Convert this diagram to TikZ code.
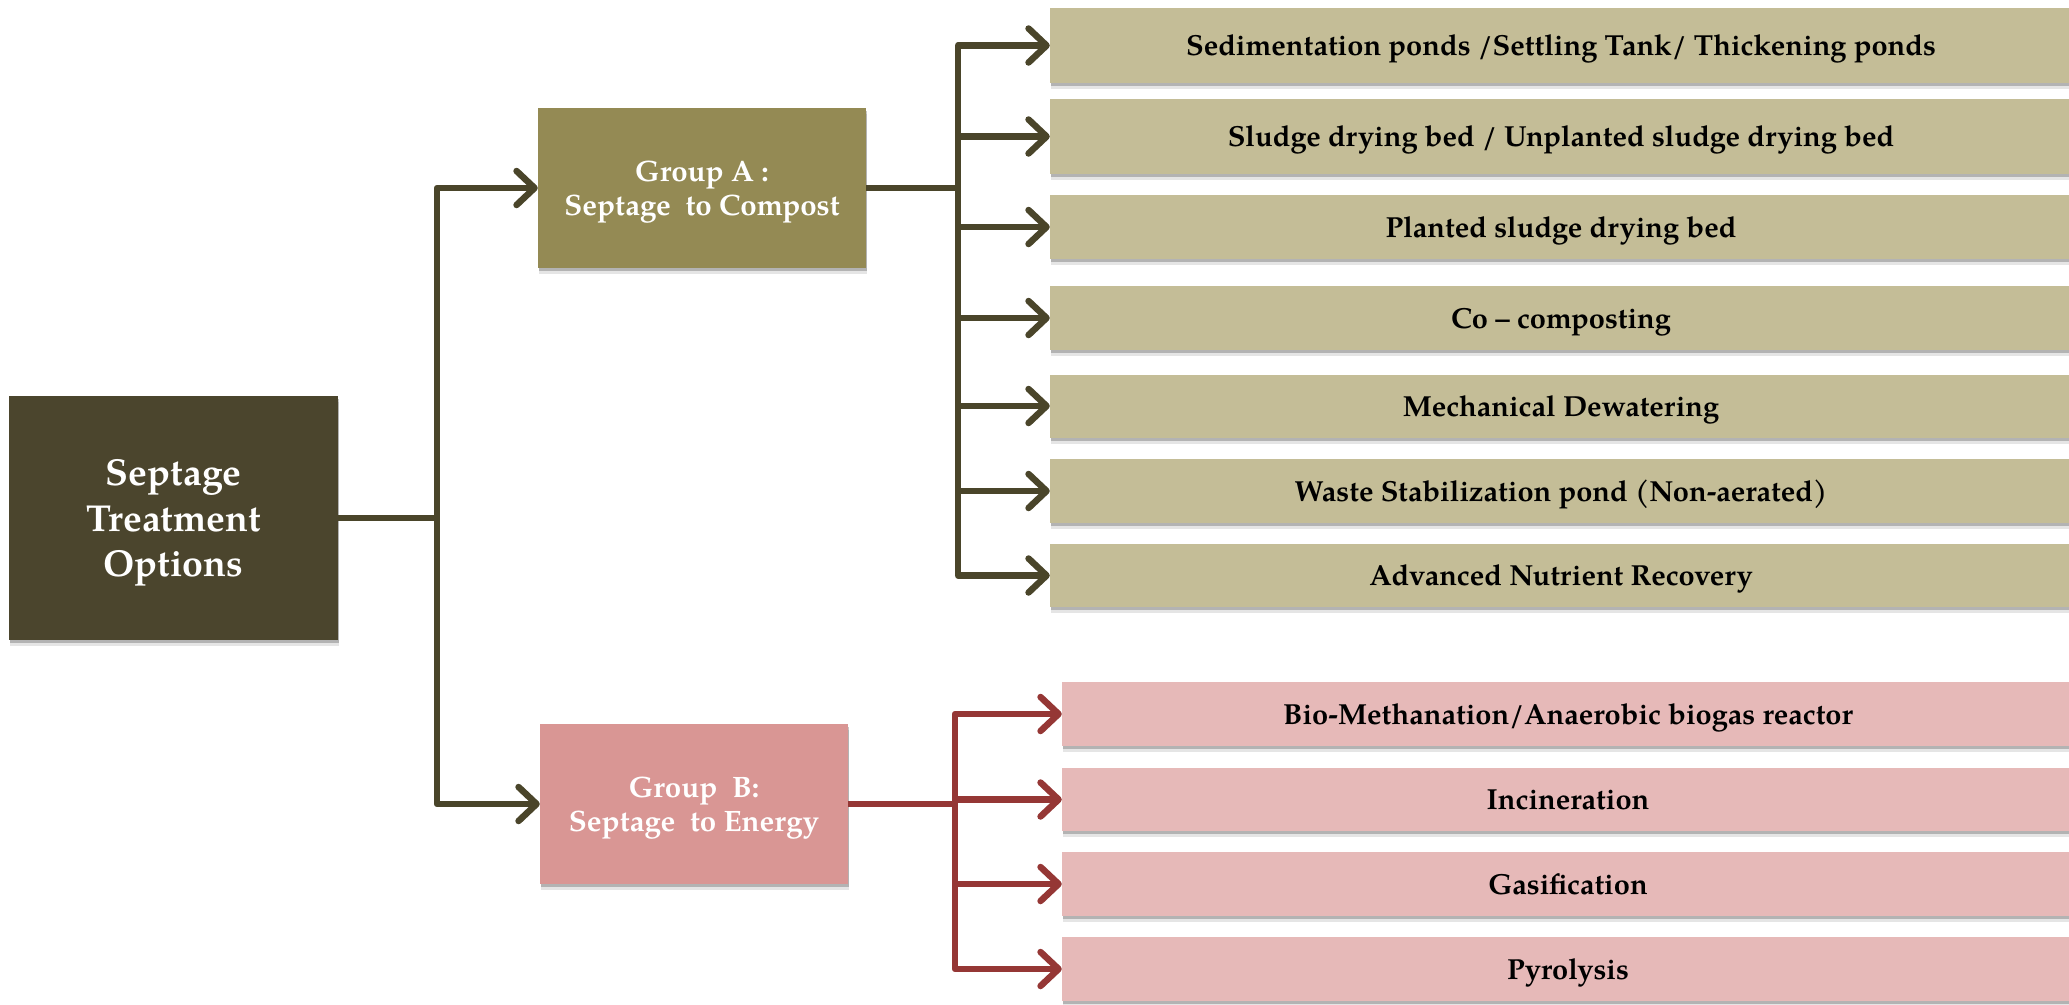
\documentclass[tikz,border=0pt]{standalone}
\usepackage{fontspec}
\setmainfont{texgyrepagella}[Extension=.otf,UprightFont=*-regular,BoldFont=*-bold,ItalicFont=*-italic,BoldItalicFont=*-bolditalic]
\usetikzlibrary{arrows.meta,shadows}
\definecolor{mainC}{RGB}{75,69,45}
\definecolor{grpA}{RGB}{148,138,84}
\definecolor{boxA}{RGB}{196,189,151}
\definecolor{grpB}{RGB}{217,150,148}
\definecolor{boxB}{RGB}{230,185,184}
\definecolor{lineA}{RGB}{74,69,42}
\definecolor{lineB}{RGB}{149,55,53}
\tikzset{
  shad/.style={drop shadow={shadow xshift=1pt,shadow yshift=-3pt,opacity=.22,fill=black},
               drop shadow={shadow xshift=1pt,shadow yshift=-6pt,opacity=.10,fill=black}},
  basebox/.style={rectangle,inner sep=0pt,align=center,font=\bfseries,shad},
  mainbox/.style={basebox,fill=mainC,text=white,text depth=0pt,font=\bfseries\fontsize{37.5}{45.5}\selectfont},
  grpbox/.style={basebox,text=white,text depth=0pt,font=\bfseries\fontsize{29.5}{34}\selectfont},
  itembox/.style={basebox,text=black,text height=20pt,text depth=0pt,font=\bfseries\fontsize{29}{32}\selectfont},
  conn/.style={line width=6.5pt,line join=round},
  tip/.style={-{Straight Barb[length=18pt,width=34pt,line cap=round,line join=round]}},
}
\begin{document}
\begin{tikzpicture}[x=1pt,y=-1pt]
\useasboundingbox (0,0) rectangle (2069,1004);
% main
\node[mainbox,minimum width=329pt,minimum height=244pt] (main) at (173.5,518) {Septage\\Treatment\\Options};
% groups
\node[grpbox,fill=grpA,minimum width=328pt,minimum height=160pt] (gA) at (702,188) {Group A :\\Septage~~to Compost};
\node[grpbox,fill=grpB,minimum width=308pt,minimum height=160pt] (gB) at (694,804) {Group~~B:\\Septage~~to Energy};
% group A items
\node[itembox,fill=boxA,minimum width=1022pt,minimum height=75pt] (a1) at (1561,45.5) {Sedimentation ponds /Settling Tank/ Thickening ponds};
\node[itembox,fill=boxA,minimum width=1022pt,minimum height=75pt] (a2) at (1561,136.5) {Sludge drying bed / Unplanted sludge drying bed};
\node[itembox,fill=boxA,minimum width=1022pt,minimum height=64pt] (a3) at (1561,227) {Planted sludge drying bed};
\node[itembox,fill=boxA,minimum width=1022pt,minimum height=64pt] (a4) at (1561,318) {Co -- composting};
\node[itembox,fill=boxA,minimum width=1022pt,minimum height=63pt] (a5) at (1561,406) {Mechanical Dewatering};
\node[itembox,fill=boxA,minimum width=1022pt,minimum height=64pt] (a6) at (1561,491) {Waste Stabilization pond (Non-aerated)};
\node[itembox,fill=boxA,minimum width=1022pt,minimum height=63pt] (a7) at (1561,575.5) {Advanced Nutrient Recovery};
% group B items
\node[itembox,fill=boxB,minimum width=1012pt,minimum height=64pt] (b1) at (1568,714) {Bio-Methanation/Anaerobic biogas reactor};
\node[itembox,fill=boxB,minimum width=1012pt,minimum height=63pt] (b2) at (1568,799.5) {Incineration};
\node[itembox,fill=boxB,minimum width=1012pt,minimum height=64pt] (b3) at (1568,884) {Gasification};
\node[itembox,fill=boxB,minimum width=1012pt,minimum height=64pt] (b4) at (1568,969) {Pyrolysis};
% junctions
\coordinate (j0) at (437,518);
\coordinate (jA) at (958,188);
\coordinate (jB) at (955,804);
% connectors
\draw[conn,lineA] (main.east) -- (j0);
\draw[conn,lineA,tip] (j0) |- (gA.west);
\draw[conn,lineA,tip] (j0) |- (gB.west);
\draw[conn,lineA] (gA.east) -- (jA);
\foreach \n in {a1,a2,a3,a4,a5,a6,a7}{\draw[conn,lineA,tip] (jA) |- (\n.west);}
\draw[conn,lineB] (gB.east) -- (jB);
\foreach \n in {b1,b2,b3,b4}{\draw[conn,lineB,tip] (jB) |- (\n.west);}
\end{tikzpicture}
\end{document}
